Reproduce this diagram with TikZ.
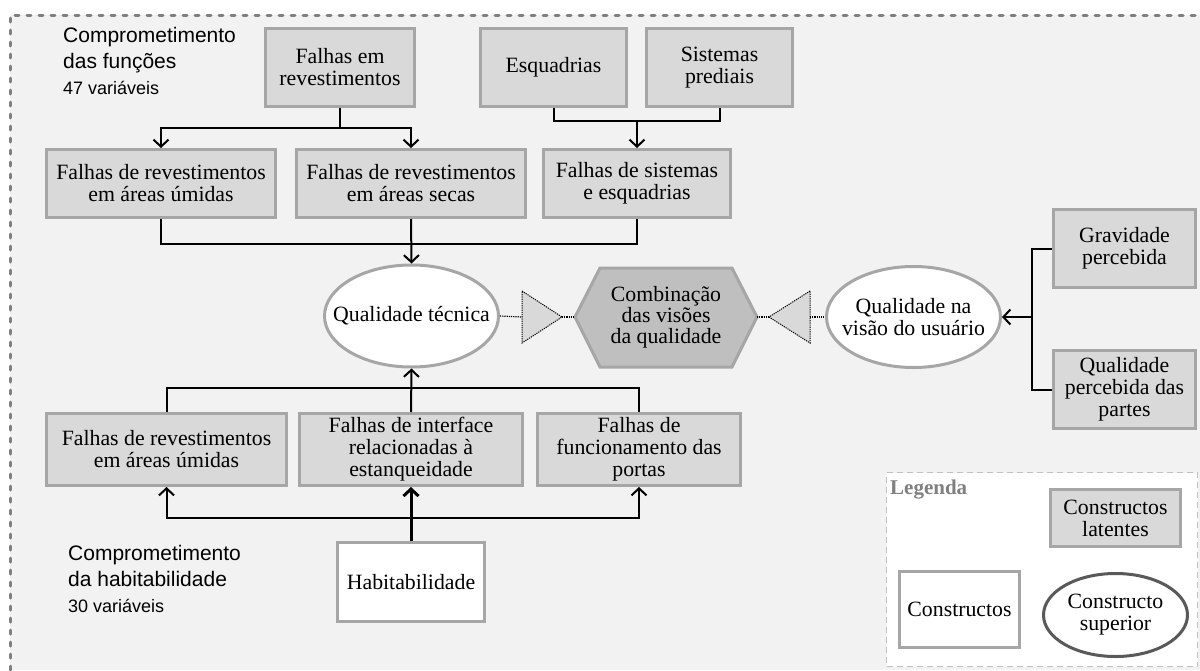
\documentclass[tikz,border=0pt]{standalone}
\usepackage{fontspec}
\setmainfont{Liberation Serif}
\setsansfont{Liberation Sans}
\usetikzlibrary{arrows.meta,shapes.geometric}
\definecolor{pagebg}{HTML}{F2F2F2}
\definecolor{latentfill}{HTML}{D9D9D9}
\definecolor{edgegray}{HTML}{A6A6A6}
\definecolor{hexfill}{HTML}{BFBFBF}
\definecolor{framegray}{HTML}{7F7F7F}
\definecolor{legendgray}{HTML}{C0C0C0}
\definecolor{legendtext}{HTML}{808080}
\definecolor{supergray}{HTML}{595959}

\begin{document}
\begin{tikzpicture}[x=1pt,y=-1pt,
  font=\fontsize{21.8}{22}\selectfont,
  latent/.style={draw=edgegray, fill=latentfill, line width=3pt, align=center, inner sep=0pt},
  construct/.style={draw=edgegray, fill=white, line width=3pt, align=center, inner sep=0pt},
  upper/.style={ellipse, draw=edgegray, fill=white, line width=3pt, inner sep=0pt},
  link/.style={line width=2pt, draw=black},
  tip/.tip={Straight Barb[length=7pt,width=15pt]},
  arr/.style={link, -tip},
  dotline/.style={draw=black, line width=1.2pt, densely dotted},
  heading/.style={font=\sffamily\fontsize{21}{26}\selectfont, align=left, anchor=base west, inner sep=0pt},
]
\useasboundingbox (0,0) rectangle (1200,670);

% panel and its dashed frame
\fill[pagebg] (10,15) rectangle (1200,670);
\draw[framegray, line width=3pt, line cap=round, dash pattern=on 4pt off 8pt] (10,670) -- (10,15) -- (1200,15);

% headings (anchored on the baseline of their last line)
\node[heading] (fhead) at (63,94) {Comprometimento\\das funções\\{\fontsize{18}{26}\selectfont 47 variáveis}};
\node[heading] (hhead) at (68,612) {Comprometimento\\da habitabilidade\\{\fontsize{18}{26}\selectfont 30 variáveis}};

% functional failures
\node[latent, minimum width=149pt, minimum height=78pt] (fer) at (340,67.5) {Falhas em\\revestimentos};
\node[latent, minimum width=146pt, minimum height=78pt] (esq) at (553.5,67.5) {Esquadrias};
\node[latent, minimum width=146pt, minimum height=78pt] (sis) at (719.5,67.5) {Sistemas\\prediais};
\node[latent, minimum width=229pt, minimum height=68pt] (um1) at (161,183.5) {Falhas de revestimentos\\em áreas úmidas};
\node[latent, minimum width=229pt, minimum height=68pt] (sec) at (411,183.5) {Falhas de revestimentos\\em áreas secas};
\node[latent, minimum width=187pt, minimum height=68pt] (fse) at (637,183.5) {Falhas de sistemas\\e esquadrias};

% higher-order constructs
\node[upper, minimum width=174pt, minimum height=102pt, label={[align=center]center:Qualidade técnica}] (qt) at (411.5,316) {};
\node[upper, minimum width=174pt, minimum height=101pt, label={[align=center]center:Qualidade na\\visão do usuário}] (qu) at (913.5,317) {};

% combination hexagon
\coordinate (hexW) at (575,317);
\coordinate (hexNW) at (600,268);
\coordinate (hexNE) at (732,268);
\coordinate (hexE) at (757,317);
\coordinate (hexSE) at (732,367);
\coordinate (hexSW) at (600,367);
\filldraw[fill=hexfill, draw=edgegray, line width=3pt] (hexW) -- (hexNW) -- (hexNE) -- (hexE) -- (hexSE) -- (hexSW) -- cycle;
\node[align=center, font=\fontsize{21.8}{21}\selectfont] (hex) at (666,317) {Combinação\\das visões\\da qualidade};

% triangles
\coordinate (tlA) at (522,291);
\coordinate (tlB) at (522,343);
\coordinate (tlM) at (522,317);
\coordinate (tlP) at (562,317);
\coordinate (trA) at (810,291);
\coordinate (trB) at (810,343);
\coordinate (trM) at (810,317);
\coordinate (trP) at (769,317);
\filldraw[fill=latentfill, dotline, line width=1pt] (tlA) -- (tlP) -- (tlB) -- cycle;
\filldraw[fill=latentfill, dotline, line width=1pt] (trA) -- (trP) -- (trB) -- cycle;
\draw[dotline] (qt.east) -- (tlM);
\draw[dotline] (tlP) -- (hexW);
\draw[dotline] (hexE) -- (trP);
\draw[dotline] (trM) -- (qu.west);

% user view
\node[latent, minimum width=142pt, minimum height=78pt] (grav) at (1124.5,248.5) {Gravidade\\percebida};
\node[latent, minimum width=142pt, minimum height=78pt] (qpp) at (1124.5,389.5) {Qualidade\\percebida das\\partes};

% habitability failures
\node[latent, minimum width=240pt, minimum height=72pt] (um2) at (166.5,449.5) {Falhas de revestimentos\\em áreas úmidas};
\node[latent, minimum width=223pt, minimum height=72pt] (int) at (411,449.5) {Falhas de interface\\relacionadas à\\estanqueidade};
\node[latent, minimum width=203pt, minimum height=72pt] (port) at (639,449.5) {Falhas de\\funcionamento das\\portas};
\node[construct, minimum width=147pt, minimum height=79pt] (hab) at (411,582) {Habitabilidade};

% connectors, top half
\draw[link] (fer.south) -- ++(0,20) coordinate (j1);
\draw[arr] (j1) -| (um1.north);
\draw[arr] (j1) -| (sec.north);
\draw[link] (esq.south) -- ++(0,13) coordinate (j2) -| (sis.south);
\coordinate (j3) at (fse.north |- j2);
\draw[arr] (j3) -- (fse.north);
\draw[link] (um1.south) -- ++(0,25) coordinate (j4) -| (fse.south);
\draw[arr] (sec.south) -- (qt.north);

% connectors, bottom half
\draw[link] (um2.north) -- ++(0,-24) coordinate (j5) -| (port.north);
\draw[arr] (int.north) -- (qt.south);
\draw[arr, line width=3pt] (hab.north) -- (int.south);
\draw[link, tip-tip] (um2.south) -- ++(0,31) -| (port.south);

% connectors, right side
\coordinate (jr) at (1032,317);
\draw[link] (grav.west) -| (jr) |- (qpp.west);
\draw[arr] (jr) -- (qu.east);

% legend
\node[draw=legendgray, fill=white, line width=1.5pt, dash pattern=on 6pt off 4pt, minimum width=311pt, minimum height=194pt, inner sep=0pt] (leg) at (1042,569.5) {};
\node[anchor=base west, inner sep=0pt, text=legendtext, font=\bfseries\fontsize{21}{22}\selectfont] (legtitle) at (890,494) {Legenda};
\node[latent, minimum width=130pt, minimum height=57pt] (leglat) at (1115.5,518) {Constructos\\latentes};
\node[construct, minimum width=120pt, minimum height=76pt] (legcon) at (959.5,609.5) {Constructos};
\node[upper, draw=supergray, minimum width=144pt, minimum height=83pt, label={[align=center]center:Constructo\\superior}] (legsup) at (1115.5,615) {};
\end{tikzpicture}
\end{document}
